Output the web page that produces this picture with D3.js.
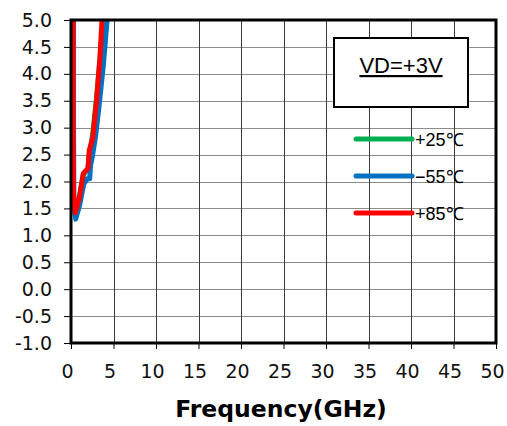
<!DOCTYPE html>
<html>
<head>
<meta charset="utf-8">
<script src="https://cdn.jsdelivr.net/npm/d3@7"></script>
<style>
  body { margin: 0; background: #fff; }
  svg { display: block; }
</style>
</head>
<body>
<div id="chart"></div>
<script>
// data (frequency in GHz)
var freq25 = [0.26, 0.26, 0.3, 0.5, 0.9, 1.4, 1.8, 2.0, 2.1, 2.3, 2.6, 3.0, 3.4, 3.8];
var val25  = [5.0, 3.0, 1.8, 1.36, 1.62, 2.1, 2.2, 2.22, 2.45, 2.62, 2.95, 3.55, 4.25, 5.0];
var freqM55 = [0.3, 0.3, 0.34, 0.55, 1.0, 1.5, 1.9, 2.2, 2.3, 2.5, 2.9, 3.3, 3.8, 4.25];
var valM55  = [5.0, 3.0, 1.7, 1.3, 1.55, 1.95, 2.05, 2.05, 2.3, 2.45, 2.85, 3.4, 4.15, 5.0];
var freq85 = [0.25, 0.25, 0.29, 0.5, 0.95, 1.45, 1.85, 2.0, 2.15, 2.55, 3.0, 3.4, 3.65];
var val85  = [5.0, 3.0, 1.75, 1.42, 1.68, 2.15, 2.22, 2.25, 2.58, 2.8, 3.5, 4.3, 5.0];

var seriesNames = ["+25\u2103", "\u221255\u2103", "+85\u2103"];
var seriesColors = ["#00b050", "#0070c0", "#ff0000"];

var xTicks = [0, 5, 10, 15, 20, 25, 30, 35, 40, 45, 50];
var yTicks = [-1.0, -0.5, 0.0, 0.5, 1.0, 1.5, 2.0, 2.5, 3.0, 3.5, 4.0, 4.5, 5.0];

var svgWidth = 507;
var svgHeight = 426;
var margin = { top: 20, right: 11, bottom: 83, left: 71 };
var width = svgWidth - margin.left - margin.right;
var height = svgHeight - margin.top - margin.bottom;

var svg = d3.select("#chart")
  .append("svg")
  .attr("width", svgWidth)
  .attr("height", svgHeight);

var chartGroup = svg.append("g")
  .attr("transform", `translate(${margin.left}, ${margin.top})`);

var xScale = d3.scaleLinear().domain([0, 50]).range([0, width]);
var yScale = d3.scaleLinear().domain([-1, 5]).range([height, 0]);

// gridlines
chartGroup.selectAll(".hgrid")
  .data(yTicks.slice(1, -1))
  .enter()
  .append("line")
  .attr("x1", 0).attr("x2", width)
  .attr("y1", d => Math.round(yScale(d)) + 0.5)
  .attr("y2", d => Math.round(yScale(d)) + 0.5)
  .attr("stroke", "#8c8c8c")
  .attr("stroke-width", 1);

chartGroup.selectAll(".vgrid")
  .data(xTicks.slice(1, -1))
  .enter()
  .append("line")
  .attr("y1", 0).attr("y2", height)
  .attr("x1", d => Math.round(xScale(d)) + 0.5)
  .attr("x2", d => Math.round(xScale(d)) + 0.5)
  .attr("stroke", "#3a3a3a")
  .attr("stroke-width", 1);

// axes
var leftAxis = d3.axisLeft(yScale).tickValues(yTicks).tickSize(7).tickPadding(12)
  .tickFormat(d3.format(".1f"));
var bottomAxis = d3.axisBottom(xScale).tickValues(xTicks).tickSize(6).tickPadding(16);

var yAxisG = chartGroup.append("g").call(leftAxis);
var xAxisG = chartGroup.append("g")
  .attr("transform", `translate(0, ${height})`)
  .call(bottomAxis);

[yAxisG, xAxisG].forEach(function(g) {
  g.select(".domain").remove();
  g.selectAll("text")
    .attr("font-family", "DejaVu Sans, sans-serif")
    .attr("font-size", "19px")
    .attr("fill", "#111");
  g.selectAll("line").attr("stroke", "#000");
});
yAxisG.selectAll("text").text(d => d3.format(".1f")(d).replace("\u2212", "-"));
xAxisG.selectAll("text").attr("dx", -4);

// curves
var curves = [
  { x: freq25, y: val25 },
  { x: freqM55, y: valM55 },
  { x: freq85, y: val85 }
];

chartGroup.append("clipPath").attr("id", "plotClip")
  .append("rect").attr("x", 0).attr("y", 0).attr("width", width).attr("height", height);

var lineV = d3.line()
  .x(d => xScale(d[0]))
  .y(d => yScale(d[1]));

chartGroup.append("g").attr("clip-path", "url(#plotClip)")
  .selectAll("path")
  .data(curves)
  .enter()
  .append("path")
  .attr("d", c => lineV(c.x.map((f, i) => [f, c.y[i]])))
  .attr("fill", "none")
  .attr("stroke", (c, i) => seriesColors[i])
  .attr("stroke-width", 5)
  .attr("stroke-linejoin", "round");

// frame
chartGroup.append("rect")
  .attr("x", 0).attr("y", 0)
  .attr("width", width).attr("height", height)
  .attr("fill", "none")
  .attr("stroke", "#000")
  .attr("stroke-width", 3);

// annotation box
svg.append("rect")
  .attr("x", 334).attr("y", 38)
  .attr("width", 134).attr("height", 69)
  .attr("fill", "#fff")
  .attr("stroke", "#000")
  .attr("stroke-width", 2);

svg.append("text")
  .attr("x", 401).attr("y", 73)
  .attr("text-anchor", "middle")
  .attr("font-family", "Liberation Sans, Arial, sans-serif")
  .attr("font-size", "22px")
  .attr("text-decoration", "underline")
  .attr("fill", "#000")
  .text("VD=+3V");

// legend
var legend = svg.selectAll(".legend")
  .data(seriesNames)
  .enter()
  .append("g")
  .attr("transform", (d, i) => `translate(356, ${139 + i * 37})`);

legend.append("line")
  .attr("x1", 0).attr("x2", 56)
  .attr("y1", 0).attr("y2", 0)
  .attr("stroke", (d, i) => seriesColors[i])
  .attr("stroke-width", 5)
  .attr("stroke-linecap", "round");

legend.append("text")
  .attr("x", 59).attr("y", 7)
  .attr("font-family", "Liberation Sans, Arial, sans-serif")
  .attr("font-size", "18px")
  .attr("fill", "#000")
  .text(d => d);

// x axis title
svg.append("text")
  .attr("x", 281).attr("y", 417)
  .attr("text-anchor", "middle")
  .attr("font-family", "DejaVu Sans, sans-serif")
  .attr("font-weight", "bold")
  .attr("font-size", "23.5px")
  .attr("fill", "#000")
  .text("Frequency(GHz)");
</script>
</body>
</html>
